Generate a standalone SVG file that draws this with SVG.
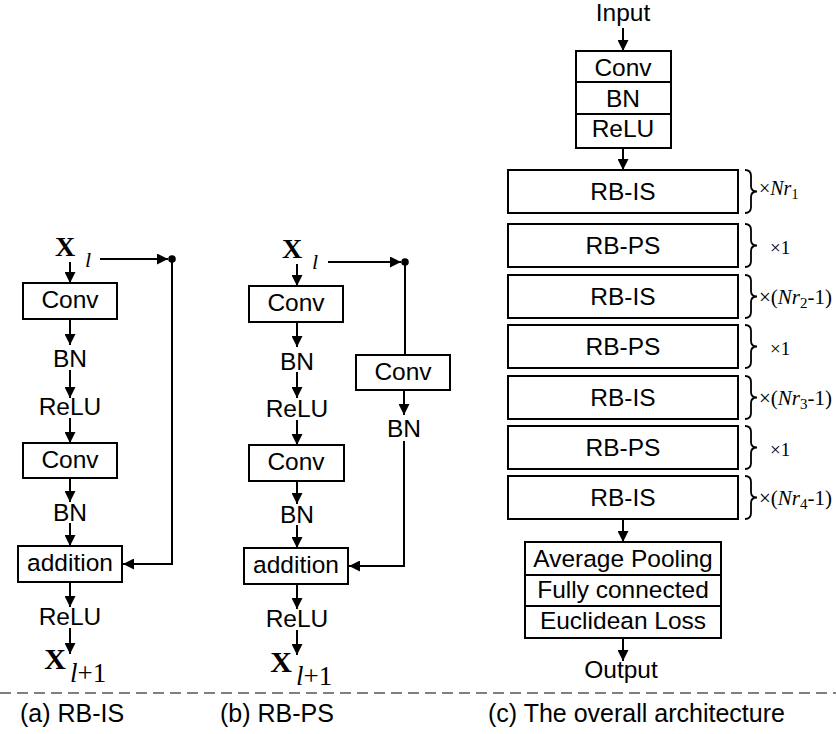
<svg xmlns="http://www.w3.org/2000/svg" width="836" height="734" viewBox="0 0 836 734">
<style>
.s{font-family:"Liberation Sans",Arial,sans-serif;font-size:24.5px;fill:#000;text-anchor:middle}
.c{font-family:"Liberation Sans",Arial,sans-serif;font-size:25px;fill:#000}
.m{font-family:"Liberation Serif","Times New Roman",serif;fill:#000}
.x{font-family:"Liberation Serif","Times New Roman",serif;fill:#000;font-weight:bold;text-anchor:middle}
.b{fill:#fff;stroke:#000;stroke-width:2}
.ln{fill:none;stroke:#000;stroke-width:2}
.ar{fill:none;stroke:#000;stroke-width:2;marker-end:url(#ah)}
.br{fill:none;stroke:#000;stroke-width:1.8}
</style>
<defs>
<marker id="ah" viewBox="0 0 10 10" refX="10" refY="5" markerWidth="12" markerHeight="11" markerUnits="userSpaceOnUse" orient="auto">
<path d="M0,0 L10,5 L0,10 z" fill="#000"/>
</marker>
</defs>
<rect width="836" height="734" fill="#fff"/>

<g id="connectors">
<line class="ar" x1="100" y1="259" x2="168" y2="259"/>
<polyline class="ar" points="172,259 172,564 123,564"/>
<line class="ar" x1="70" y1="262" x2="70" y2="283"/>
<line class="ar" x1="70" y1="319" x2="70" y2="345"/>
<line class="ar" x1="70" y1="370" x2="70" y2="398"/>
<line class="ar" x1="70" y1="418" x2="70" y2="443"/>
<line class="ar" x1="70" y1="478" x2="70" y2="502"/>
<line class="ar" x1="70" y1="523" x2="70" y2="546"/>
<line class="ar" x1="70" y1="582" x2="70" y2="607"/>
<line class="ar" x1="70" y1="628" x2="70" y2="654"/>
<line class="ar" x1="328" y1="262" x2="401" y2="262"/>
<line class="ln" x1="405" y1="262" x2="405" y2="355"/>
<line class="ar" x1="297" y1="264" x2="297" y2="286"/>
<line class="ar" x1="297" y1="322" x2="297" y2="347"/>
<line class="ar" x1="297" y1="372" x2="297" y2="398"/>
<line class="ar" x1="297" y1="420" x2="297" y2="445"/>
<line class="ar" x1="297" y1="481" x2="297" y2="504"/>
<line class="ar" x1="297" y1="525" x2="297" y2="548"/>
<line class="ar" x1="297" y1="584" x2="297" y2="609"/>
<line class="ar" x1="297" y1="630" x2="297" y2="655"/>
<line class="ar" x1="404" y1="390" x2="404" y2="415"/>
<polyline class="ar" points="404,441 404,566 349,566"/>
<line class="ar" x1="623" y1="28" x2="623" y2="51"/>
<line class="ar" x1="623" y1="148" x2="623" y2="170"/>
<line class="ar" x1="623" y1="519" x2="623" y2="542"/>
<line class="ar" x1="623" y1="638" x2="623" y2="661"/>
</g>
<circle cx="172" cy="259" r="3.8" fill="#000"/>
<circle cx="405" cy="262" r="3.8" fill="#000"/>

<g id="a-xl">
<text class="x" x="65" y="256" font-size="28">X</text>
<text class="m" x="85" y="267" font-size="22" font-style="italic">l</text>
</g>
<g id="a-conv1"><rect class="b" x="23" y="283" width="94" height="36"/><text class="s" x="70" y="308">Conv</text></g>
<g id="a-bn1"><text class="s" x="70" y="367">BN</text></g>
<g id="a-relu1"><text class="s" x="70" y="415">ReLU</text></g>
<g id="a-conv2"><rect class="b" x="23" y="443" width="94" height="35"/><text class="s" x="70" y="468">Conv</text></g>
<g id="a-bn2"><text class="s" x="70" y="521">BN</text></g>
<g id="a-add"><rect class="b" x="18" y="546" width="104" height="36"/><text class="s" x="70" y="571">addition</text></g>
<g id="a-relu2"><text class="s" x="70" y="625">ReLU</text></g>
<g id="a-xl1">
<text class="x" x="55" y="669" font-size="30">X</text>
<text class="m" x="70" y="682" font-size="27"><tspan font-style="italic">l</tspan>+1</text>
</g>

<g id="b-xl">
<text class="x" x="292" y="258" font-size="28">X</text>
<text class="m" x="312" y="269" font-size="22" font-style="italic">l</text>
</g>
<g id="b-conv1"><rect class="b" x="249" y="286" width="94" height="36"/><text class="s" x="296" y="311">Conv</text></g>
<g id="b-bn1"><text class="s" x="297" y="370">BN</text></g>
<g id="b-relu1"><text class="s" x="297" y="417">ReLU</text></g>
<g id="b-conv2"><rect class="b" x="249" y="445" width="95" height="36"/><text class="s" x="296" y="470">Conv</text></g>
<g id="b-bn2"><text class="s" x="297" y="523">BN</text></g>
<g id="b-add"><rect class="b" x="244" y="548" width="104" height="36"/><text class="s" x="296" y="573">addition</text></g>
<g id="b-relu2"><text class="s" x="297" y="627">ReLU</text></g>
<g id="b-xl1">
<text class="x" x="281" y="672" font-size="30">X</text>
<text class="m" x="296" y="685" font-size="27"><tspan font-style="italic">l</tspan>+1</text>
</g>
<g id="b-sconv"><rect class="b" x="356" y="355" width="94" height="35"/><text class="s" x="403" y="380">Conv</text></g>
<g id="b-sbn"><text class="s" x="404" y="437">BN</text></g>

<g id="c-input"><text class="s" x="623" y="21">Input</text></g>
<g id="c-stem">
<rect class="b" x="576" y="51" width="95" height="97"/>
<line class="ln" x1="576" y1="82" x2="671" y2="82"/>
<line class="ln" x1="576" y1="114" x2="671" y2="114"/>
<text class="s" x="623" y="76">Conv</text>
<text class="s" x="623" y="107">BN</text>
<text class="s" x="623" y="137">ReLU</text>
</g>
<g id="c-rb1"><rect class="b" x="508" y="170" width="230" height="43"/><text class="s" x="623" y="200">RB-IS</text>
<path class="br" d="M745,170 Q751,170 751,176 L751,186 Q751,191.5 757,191.5 Q751,191.5 751,197 L751,207 Q751,213 745,213"/>
<text class="m" x="759" y="195" font-size="20">×<tspan font-style="italic">Nr</tspan><tspan font-size="14" dy="4">1</tspan></text></g>
<g id="c-rb2"><rect class="b" x="508" y="224" width="230" height="43"/><text class="s" x="623" y="254">RB-PS</text>
<path class="br" d="M745,224 Q751,224 751,230 L751,240 Q751,245.5 757,245.5 Q751,245.5 751,251 L751,261 Q751,267 745,267"/>
<text class="m" x="770" y="254" font-size="19">×1</text></g>
<g id="c-rb3"><rect class="b" x="508" y="275" width="230" height="43"/><text class="s" x="623" y="305">RB-IS</text>
<path class="br" d="M745,275 Q751,275 751,281 L751,291 Q751,296.5 757,296.5 Q751,296.5 751,302 L751,312 Q751,318 745,318"/>
<text class="m" x="759" y="304" font-size="21">×(<tspan font-style="italic">Nr</tspan><tspan font-size="15" dy="4">2</tspan><tspan dy="-4">-1)</tspan></text></g>
<g id="c-rb4"><rect class="b" x="508" y="325" width="230" height="43"/><text class="s" x="623" y="355">RB-PS</text>
<path class="br" d="M745,325 Q751,325 751,331 L751,341 Q751,346.5 757,346.5 Q751,346.5 751,352 L751,362 Q751,368 745,368"/>
<text class="m" x="770" y="355" font-size="19">×1</text></g>
<g id="c-rb5"><rect class="b" x="508" y="376" width="230" height="43"/><text class="s" x="623" y="406">RB-IS</text>
<path class="br" d="M745,376 Q751,376 751,382 L751,392 Q751,397.5 757,397.5 Q751,397.5 751,403 L751,413 Q751,419 745,419"/>
<text class="m" x="759" y="405" font-size="21">×(<tspan font-style="italic">Nr</tspan><tspan font-size="15" dy="4">3</tspan><tspan dy="-4">-1)</tspan></text></g>
<g id="c-rb6"><rect class="b" x="508" y="426" width="230" height="43"/><text class="s" x="623" y="456">RB-PS</text>
<path class="br" d="M745,426 Q751,426 751,432 L751,442 Q751,447.5 757,447.5 Q751,447.5 751,453 L751,463 Q751,469 745,469"/>
<text class="m" x="770" y="456" font-size="19">×1</text></g>
<g id="c-rb7"><rect class="b" x="508" y="476" width="230" height="43"/><text class="s" x="623" y="506">RB-IS</text>
<path class="br" d="M745,476 Q751,476 751,482 L751,492 Q751,497.5 757,497.5 Q751,497.5 751,503 L751,513 Q751,519 745,519"/>
<text class="m" x="759" y="505" font-size="21">×(<tspan font-style="italic">Nr</tspan><tspan font-size="15" dy="4">4</tspan><tspan dy="-4">-1)</tspan></text></g>
<g id="c-head">
<rect class="b" x="525" y="542" width="196" height="96"/>
<line class="ln" x1="525" y1="575" x2="721" y2="575"/>
<line class="ln" x1="525" y1="606" x2="721" y2="606"/>
<text class="s" x="623" y="567">Average Pooling</text>
<text class="s" x="623" y="598">Fully connected</text>
<text class="s" x="623" y="629">Euclidean Loss</text>
</g>
<g id="c-output"><text class="s" x="621" y="678">Output</text></g>

<line x1="0" y1="693" x2="836" y2="693" stroke="#555" stroke-width="1.5" stroke-dasharray="11 6"/>
<text class="c" x="20" y="722">(a) RB-IS</text>
<text class="c" x="220" y="722">(b) RB-PS</text>
<text class="c" x="488" y="722">(c) The overall architecture</text>
</svg>
